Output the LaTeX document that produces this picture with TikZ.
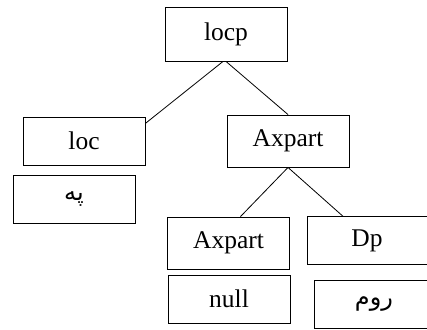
\documentclass[tikz,border=0pt]{standalone}
\usepackage{fontspec}
\setmainfont{Liberation Serif}
\newfontfamily\arabicfont[Script=Arabic]{DejaVu Sans}
\TeXXeTstate=1
\begin{document}
\begin{tikzpicture}[x=1pt,y=-1pt,
  boxnode/.style={draw=black, line width=0.9pt, inner sep=0pt, minimum width=122pt,
    font=\fontsize{25.5}{30}\selectfont},
  arnode/.style={boxnode, font=\arabicfont\fontsize{24}{28}\selectfont},
  edge/.style={line width=0.8pt, draw=black}]
\clip (0,0) rectangle (427,329);
\fill[white] (0,0) rectangle (427,329);
\node[boxnode, minimum height=54pt] (locp) at (226,34) {locp};
\node[boxnode, minimum height=48pt] (loc) at (84,141) {loc};
\node[boxnode, minimum height=52pt] (ax1) at (288,141) {Axpart};
\node[arnode, minimum height=48pt] (pe) at (74,199) {\beginR په\endR};
\node[boxnode, minimum height=52pt] (ax2) at (228.5,243) {Axpart};
\node[boxnode, minimum height=48pt] (null) at (229,299) {null};
\node[boxnode, minimum height=47.5pt] (dp) at (368,240.5) {\hspace*{-2pt}Dp};
\node[arnode, minimum height=48pt] (rum) at (375,304) {\beginR روم\endR\hspace*{2pt}};
\draw[edge] ([xshift=-3pt]locp.south) -- (loc.16);
\draw[edge] (locp.south) -- (ax1.north);
\draw[edge] (ax1.south) -- ([xshift=12pt]ax2.north);
\draw[edge] (ax1.south) -- ([xshift=-25pt]dp.north);
\end{tikzpicture}
\end{document}
